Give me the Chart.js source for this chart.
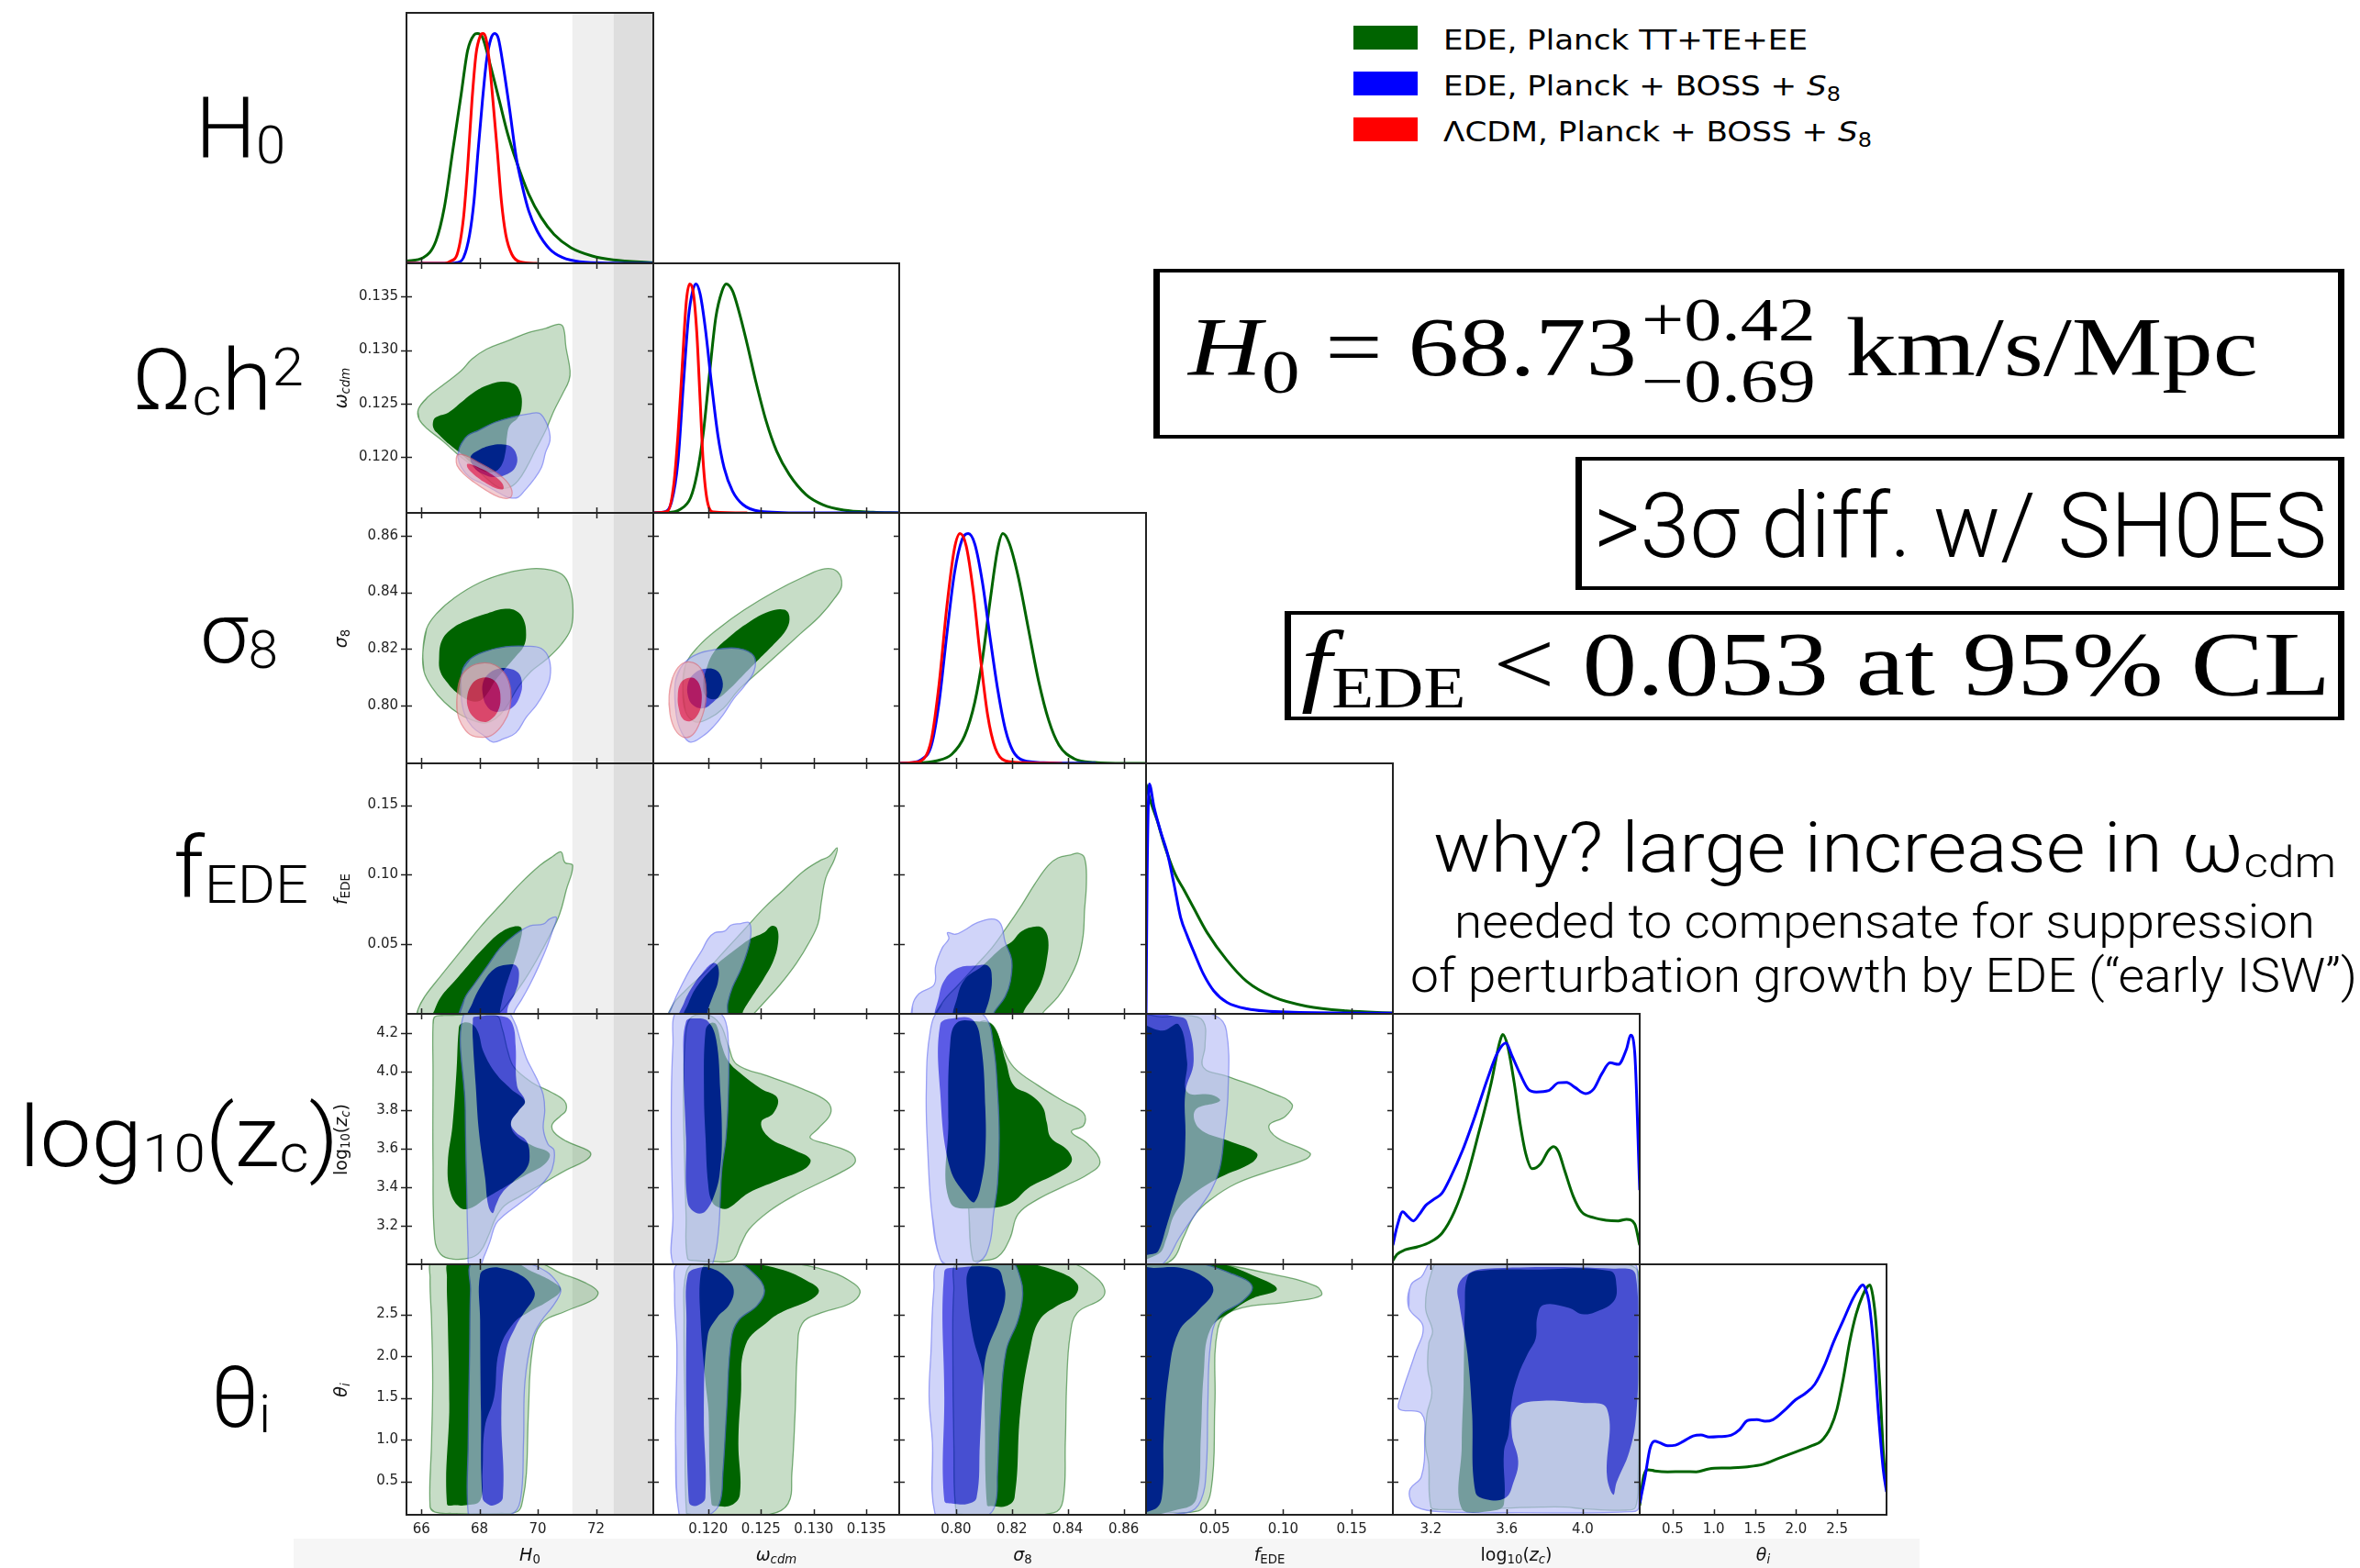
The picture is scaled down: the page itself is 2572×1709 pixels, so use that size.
<!DOCTYPE html>
<html>
<head>
<meta charset="utf-8">
<title>EDE constraints: Planck vs Planck + BOSS + S8</title>
<script src="https://cdn.jsdelivr.net/npm/chart.js@4.4.1/dist/chart.umd.min.js"></script>
<style>
  html, body { margin: 0; padding: 0; background: #fff; }
  #stage { position: relative; width: 2572px; height: 1709px; overflow: hidden; background: #fff; }
  #stage canvas { position: absolute; }
  .txt { position: absolute; white-space: nowrap; transform-origin: 0 0; line-height: 1; color: #000; }
  .rowlab { font-family: Roboto, 'Liberation Sans', sans-serif; font-weight: 300; }
  .rowlab .sb { font-size: 0.62em; position: relative; top: 0.1em; }
  .rowlab .sp { font-size: 0.62em; position: relative; top: -0.45em; }
  .ax { font-family: 'DejaVu Sans', sans-serif; color: #111; }
  .ax .sb { font-size: 0.7em; position: relative; top: 0.25em; }
  .it { font-style: italic; }
  .leg { font-family: 'DejaVu Sans', sans-serif; }
  .leg .sb { font-size: 0.7em; position: relative; top: 0.3em; }
  .serif { font-family: 'Liberation Serif', 'DejaVu Serif', serif; }
  .serif .sb { font-size: 0.75em; position: relative; top: 0.28em; }
  .serif .sbr { font-size: 0.63em; position: relative; top: 0.22em; }
  .serif .pm { display: inline-flex; flex-direction: column; font-size: 0.74em; line-height: 1; position: relative; top: -0.57em; margin: 0 0.06em; }
  .helv { font-family: Roboto, 'Liberation Sans', sans-serif; font-weight: 300; }
  .helv .sb { font-size: 0.62em; position: relative; top: 0.12em; }
  .box { position: absolute; border-style: solid; border-color: #000; border-width: 4px 7px; box-sizing: border-box; }
  .swatch { position: absolute; width: 70px; height: 26px; }
  .strip { position: absolute; background: #f6f6f6; }
</style>
</head>
<body>
<div id="stage"></div>
<script>
// ---------------- axis limits, ticks, reference values ----------------
const paramMin = [65.49, 0.1148, 0.7797, 0.0, 3.0, 0.1];
const paramMax = [73.97, 0.1381, 0.8680, 0.18, 4.3, 3.1];
const ticksH0 = [66, 68, 70, 72];
const ticksWcdm = [0.120, 0.125, 0.130, 0.135];
const ticksS8 = [0.80, 0.82, 0.84, 0.86];
const ticksFede = [0.05, 0.10, 0.15];
const ticksZcCol = [3.2, 3.6, 4.0];
const ticksZcRow = [3.2, 3.4, 3.6, 3.8, 4.0, 4.2];
const ticksTheta = [0.5, 1.0, 1.5, 2.0, 2.5];
const tickDecimals = [0, 3, 2, 2, 1, 1];
const shoesH0 = 74.03, shoesSigma = 1.42;   // SH0ES H0 (1 and 2 sigma bands)
const pdfTop = 1.09;                          // headroom above a peak-normalised posterior

// ---------------- 1D marginalised posteriors (peak = 1) ----------------
const pdfH0Planck = [[65.49,0.010],[66.07,0.025],[66.50,0.097],[66.79,0.243],[67.08,0.490],[67.37,0.737],[67.59,0.926],[67.81,0.994],[67.92,1.0],[68.10,0.984],[68.39,0.853],[68.68,0.708],[68.97,0.562],[69.26,0.446],[69.69,0.301],[70.12,0.199],[70.56,0.126],[71.14,0.068],[71.87,0.032],[72.59,0.015],[73.97,0.003]];
const pdfH0Boss = [[65.49,0],[67.0,0],[67.23,0.003],[67.45,0.025],[67.66,0.126],[67.81,0.272],[67.95,0.490],[68.10,0.708],[68.24,0.882],[68.39,0.977],[68.52,1.0],[68.65,0.977],[68.82,0.853],[69.04,0.664],[69.26,0.461],[69.48,0.330],[69.69,0.228],[69.98,0.141],[70.42,0.061],[70.85,0.025],[71.43,0.007],[72.59,0.001],[73.97,0]];
const pdfH0Lcdm = [[65.49,0],[66.8,0],[67.01,0.010],[67.23,0.039],[67.45,0.199],[67.59,0.417],[67.74,0.708],[67.88,0.911],[68.03,0.991],[68.11,1.0],[68.21,0.984],[68.32,0.897],[68.46,0.708],[68.61,0.490],[68.75,0.272],[68.90,0.126],[69.11,0.039],[69.40,0.006],[69.98,0]];

const pdfWcdmPlanck = [[0.1148,0],[0.11614,0.001],[0.11733,0.015],[0.11833,0.066],[0.11893,0.168],[0.11952,0.342],[0.12012,0.605],[0.12072,0.853],[0.12131,0.969],[0.12171,1.0],[0.12231,0.969],[0.1229,0.882],[0.1237,0.736],[0.1245,0.576],[0.12549,0.401],[0.12648,0.270],[0.12768,0.168],[0.12927,0.080],[0.13086,0.036],[0.13285,0.012],[0.13563,0.003],[0.1381,0]];
const pdfWcdmBoss = [[0.1148,0],[0.11574,0.003],[0.11654,0.051],[0.11714,0.226],[0.11765,0.561],[0.11813,0.853],[0.11853,0.969],[0.11885,1.0],[0.11924,0.955],[0.11972,0.809],[0.12032,0.561],[0.12091,0.342],[0.12151,0.197],[0.12231,0.095],[0.1233,0.036],[0.12489,0.007],[0.12887,0],[0.1381,0]];
const pdfWcdmLcdm = [[0.1148,0],[0.11614,0.007],[0.11674,0.124],[0.11714,0.342],[0.11753,0.634],[0.11793,0.925],[0.11825,1.0],[0.11861,0.955],[0.11893,0.780],[0.11924,0.488],[0.11952,0.226],[0.11992,0.051],[0.12052,0.004],[0.1237,0]];

const pdfS8Planck = [[0.7797,0],[0.78578,0.001],[0.79307,0.011],[0.79854,0.040],[0.8031,0.120],[0.80675,0.267],[0.80948,0.454],[0.81221,0.707],[0.81495,0.934],[0.81677,1.0],[0.81896,0.961],[0.82224,0.814],[0.82589,0.587],[0.82953,0.360],[0.83318,0.187],[0.83683,0.080],[0.84229,0.020],[0.84958,0.004],[0.86052,0],[0.868,0]];
const pdfS8Boss = [[0.7797,0],[0.78396,0.003],[0.7876,0.016],[0.79125,0.080],[0.79398,0.267],[0.79672,0.560],[0.79945,0.827],[0.80219,0.974],[0.80438,1.0],[0.80675,0.954],[0.80948,0.787],[0.81221,0.547],[0.81495,0.320],[0.81768,0.147],[0.82042,0.053],[0.82406,0.013],[0.83136,0.003],[0.85,0]];
const pdfS8Lcdm = [[0.7797,0],[0.78487,0.004],[0.78852,0.020],[0.79125,0.107],[0.79398,0.347],[0.79672,0.680],[0.79945,0.934],[0.80146,1.0],[0.80365,0.947],[0.8062,0.747],[0.80857,0.480],[0.8113,0.213],[0.81404,0.067],[0.81768,0.011],[0.82406,0.003],[0.838,0]];

const pdfFedePlanck = [[0,1.0],[0.003,0.93],[0.0082,0.84],[0.0131,0.74],[0.0213,0.607],[0.0276,0.54],[0.0348,0.46],[0.0445,0.354],[0.059,0.233],[0.0736,0.14],[0.0929,0.073],[0.1171,0.033],[0.1461,0.013],[0.18,0.004]];
const pdfFedeBoss = [[0,0],[0.0008,0.6],[0.0024,1.0],[0.0058,0.90],[0.0106,0.794],[0.0155,0.70],[0.0203,0.567],[0.0252,0.42],[0.0300,0.34],[0.0348,0.27],[0.0421,0.17],[0.0494,0.10],[0.059,0.05],[0.0736,0.022],[0.1074,0.007],[0.18,0.003]];

const pdfZcPlanck = [[3.0,0.016],[3.0216,0.043],[3.0648,0.063],[3.1295,0.076],[3.1943,0.096],[3.2591,0.136],[3.3238,0.229],[3.3886,0.376],[3.4534,0.576],[3.5181,0.790],[3.5613,0.963],[3.5786,1.0],[3.6045,0.950],[3.639,0.790],[3.6693,0.616],[3.6995,0.483],[3.734,0.416],[3.7772,0.436],[3.8204,0.496],[3.8463,0.512],[3.8722,0.490],[3.9067,0.403],[3.9499,0.296],[3.9931,0.229],[4.0579,0.203],[4.1226,0.192],[4.1874,0.189],[4.2306,0.196],[4.2737,0.176],[4.3,0.083]];
const pdfZcBoss = [[3.0,0.083],[3.0216,0.163],[3.0518,0.229],[3.0777,0.209],[3.1079,0.189],[3.1382,0.216],[3.1727,0.256],[3.2159,0.283],[3.2591,0.310],[3.3022,0.376],[3.367,0.496],[3.4318,0.643],[3.4965,0.803],[3.5527,0.923],[3.5959,0.963],[3.6261,0.910],[3.6693,0.830],[3.7124,0.763],[3.7556,0.750],[3.8204,0.756],[3.8722,0.790],[3.9154,0.792],[3.9585,0.770],[4.0147,0.743],[4.0579,0.763],[4.101,0.830],[4.1442,0.877],[4.1874,0.870],[4.2306,0.937],[4.2522,0.997],[4.2737,0.923],[4.3,0.323]];

const pdfThetaPlanck = [[0.1,0.04],[0.147,0.167],[0.205,0.196],[0.283,0.191],[0.438,0.187],[0.632,0.188],[0.788,0.187],[0.943,0.200],[1.176,0.204],[1.410,0.209],[1.604,0.220],[1.798,0.247],[1.993,0.273],[2.187,0.300],[2.303,0.320],[2.420,0.380],[2.498,0.460],[2.575,0.594],[2.653,0.754],[2.731,0.874],[2.809,0.954],[2.867,0.992],[2.898,1.0],[2.933,0.954],[2.972,0.834],[3.022,0.540],[3.061,0.273],[3.10,0.113]];
const pdfThetaBoss = [[0.1,0.05],[0.166,0.167],[0.224,0.287],[0.283,0.320],[0.341,0.314],[0.438,0.300],[0.535,0.303],[0.632,0.320],[0.749,0.343],[0.846,0.347],[0.943,0.338],[1.060,0.340],[1.215,0.347],[1.312,0.370],[1.410,0.410],[1.526,0.414],[1.623,0.407],[1.720,0.414],[1.876,0.460],[1.993,0.500],[2.109,0.527],[2.226,0.567],[2.342,0.647],[2.459,0.754],[2.575,0.847],[2.692,0.941],[2.770,0.987],[2.809,1.0],[2.847,0.981],[2.886,0.927],[2.945,0.727],[3.003,0.434],[3.061,0.193],[3.10,0.100]];

// ---------------- 2D credible regions (95% and 68% boundaries, [x, y]) ----------------
const wcdmVsH0 = {
  planck95: [[65.90,0.1245],[66.21,0.12559],[66.79,0.12683],[67.37,0.12808],[67.74,0.12916],[68.24,0.13009],[68.97,0.13087],[69.69,0.13165],[70.27,0.13202],[70.71,0.13242],[70.88,0.13211],[70.97,0.13025],[71.11,0.12808],[71.07,0.12714],[70.85,0.1259],[70.56,0.12435],[70.27,0.12248],[69.91,0.12062],[69.62,0.11907],[69.33,0.11783],[69.04,0.1172],[68.68,0.11714],[68.32,0.11783],[67.81,0.11907],[67.23,0.12031],[66.72,0.12155],[66.21,0.12264],[65.92,0.12357]],
  planck68: [[66.40,0.12326],[66.50,0.12373],[66.94,0.12419],[67.37,0.12512],[67.81,0.12606],[68.24,0.12668],[68.75,0.12705],[69.19,0.12683],[69.40,0.12606],[69.45,0.12481],[69.33,0.12373],[69.04,0.12295],[68.94,0.12186],[68.90,0.12062],[68.75,0.11922],[68.46,0.1186],[68.10,0.11876],[67.74,0.11938],[67.37,0.12031],[66.94,0.12124],[66.58,0.12217],[66.43,0.12264]],
  boss95: [[67.30,0.12078],[67.37,0.12124],[67.59,0.12202],[67.95,0.12248],[68.53,0.12326],[69.11,0.12373],[69.69,0.12404],[70.05,0.1241],[70.27,0.12335],[70.39,0.12248],[70.42,0.12155],[70.27,0.12047],[70.13,0.11907],[69.84,0.11783],[69.55,0.11689],[69.33,0.11627],[69.11,0.11618],[68.90,0.11633],[68.53,0.11689],[68.10,0.11752],[67.66,0.11814],[67.37,0.11907],[67.26,0.12]],
  boss68: [[67.69,0.12],[67.95,0.12062],[68.39,0.12109],[68.82,0.12118],[69.11,0.12093],[69.29,0.12],[69.23,0.11907],[68.97,0.11845],[68.53,0.11814],[68.10,0.11845],[67.81,0.11907]],
  lcdm95: [[67.26,0.12025],[67.52,0.12016],[67.95,0.11953],[68.46,0.11876],[68.90,0.11783],[69.11,0.11689],[69.04,0.11621],[68.68,0.11627],[68.24,0.11689],[67.81,0.11767],[67.45,0.11845],[67.23,0.11922],[67.20,0.11984]],
  lcdm68: [[67.59,0.11938],[67.95,0.11907],[68.39,0.11845],[68.75,0.11767],[68.82,0.11705],[68.61,0.11705],[68.17,0.11767],[67.78,0.11845],[67.59,0.11901]]
};
const s8VsH0 = {
  planck95: [[66.05,0.8186],[66.18,0.8272],[66.53,0.8326],[67.14,0.8381],[68.02,0.8435],[68.89,0.8467],[69.77,0.8483],[70.47,0.8478],[70.91,0.8456],[71.14,0.8402],[71.21,0.8337],[71.14,0.8272],[70.82,0.8218],[70.30,0.8164],[69.77,0.8121],[69.33,0.8067],[68.89,0.7991],[68.54,0.7954],[68.19,0.7939],[67.84,0.7946],[67.32,0.7970],[66.79,0.8013],[66.35,0.8067],[66.09,0.8121]],
  planck68: [[66.61,0.8164],[66.70,0.8229],[67.05,0.8272],[67.67,0.8305],[68.28,0.8326],[68.81,0.8341],[69.25,0.8335],[69.51,0.8305],[69.60,0.8251],[69.51,0.8208],[69.25,0.8175],[68.89,0.8132],[68.54,0.8089],[68.28,0.8045],[68.02,0.8018],[67.67,0.8018],[67.23,0.8045],[66.88,0.8083],[66.65,0.8121]],
  boss95: [[67.40,0.8121],[67.67,0.8164],[68.19,0.8191],[68.89,0.8208],[69.60,0.8210],[70.12,0.8202],[70.39,0.8164],[70.42,0.8099],[70.21,0.8045],[69.95,0.8002],[69.60,0.7959],[69.25,0.7905],[68.81,0.7883],[68.46,0.7872],[68.16,0.7894],[67.75,0.7926],[67.49,0.7970],[67.37,0.8035]],
  boss68: [[68.11,0.8078],[68.28,0.8110],[68.63,0.8130],[68.98,0.8132],[69.33,0.8116],[69.46,0.8078],[69.39,0.8035],[69.16,0.7997],[68.81,0.7981],[68.46,0.7981],[68.23,0.8002],[68.12,0.8035]],
  lcdm95: [[67.23,0.8035],[67.35,0.8099],[67.67,0.8137],[68.11,0.8151],[68.54,0.8143],[68.89,0.8110],[69.07,0.8056],[69.04,0.7991],[68.81,0.7937],[68.46,0.7899],[68.11,0.7889],[67.67,0.7899],[67.37,0.7937],[67.23,0.7981]],
  lcdm68: [[67.58,0.8035],[67.75,0.8078],[68.02,0.8097],[68.37,0.8097],[68.63,0.8072],[68.72,0.8024],[68.63,0.7981],[68.37,0.7950],[68.11,0.7943],[67.81,0.7959],[67.61,0.7991]]
};
const s8VsWcdm = {
  planck95: [[0.1176,0.8067],[0.11784,0.8143],[0.11904,0.8208],[0.12096,0.8272],[0.12337,0.8337],[0.12625,0.8402],[0.12914,0.8456],[0.13106,0.8483],[0.13226,0.8472],[0.13265,0.8424],[0.13202,0.8381],[0.13058,0.8316],[0.12865,0.8251],[0.12673,0.8186],[0.12481,0.8121],[0.12288,0.8056],[0.12144,0.7991],[0.12,0.7954],[0.1188,0.7943],[0.11784,0.7981]],
  planck68: [[0.11976,0.8121],[0.12048,0.8186],[0.12192,0.824],[0.12385,0.8294],[0.12577,0.8332],[0.12721,0.8339],[0.12769,0.8316],[0.12745,0.8272],[0.12625,0.8218],[0.12481,0.8164],[0.12337,0.811],[0.12192,0.8056],[0.12072,0.8024],[0.11976,0.8035],[0.11952,0.8078]],
  boss95: [[0.11687,0.8078],[0.11736,0.8132],[0.11856,0.8175],[0.12048,0.8197],[0.12288,0.8202],[0.12433,0.8175],[0.12433,0.8121],[0.12337,0.8067],[0.1224,0.8024],[0.12144,0.797],[0.12048,0.7926],[0.11952,0.7894],[0.11832,0.7872],[0.1175,0.7905],[0.11697,0.797]],
  boss68: [[0.11808,0.8078],[0.11856,0.811],[0.11952,0.8129],[0.12072,0.8126],[0.12135,0.8089],[0.1212,0.8045],[0.12048,0.8013],[0.11952,0.7991],[0.11856,0.8002],[0.11808,0.8035]],
  lcdm95: [[0.1163,0.8035],[0.11663,0.8099],[0.11736,0.8143],[0.11832,0.8154],[0.11928,0.8132],[0.11976,0.8078],[0.11976,0.8013],[0.11928,0.7948],[0.11856,0.7899],[0.11769,0.7889],[0.11687,0.7916],[0.11639,0.797]],
  lcdm68: [[0.11712,0.8035],[0.11736,0.8078],[0.11798,0.8097],[0.1188,0.8094],[0.11928,0.8062],[0.11937,0.8013],[0.11904,0.797],[0.11832,0.7946],[0.1176,0.7954],[0.11721,0.7991]]
};
const fedeVsH0 = {
  planck95: [[65.89,0.0035],[66.11,0.0123],[66.68,0.0276],[67.36,0.0452],[68.04,0.0627],[68.71,0.0781],[69.39,0.0934],[70.07,0.1066],[70.52,0.1132],[70.80,0.1164],[70.93,0.1088],[71.20,0.1066],[70.98,0.089],[70.75,0.0715],[70.41,0.0561],[69.96,0.0386],[69.51,0.0232],[69.05,0.0101],[68.71,0.0013],[68.26,-0.005],[66.0,-0.005],[65.85,-0.002]],
  planck68: [[66.45,0.0024],[66.68,0.0123],[67.13,0.0232],[67.58,0.0342],[68.15,0.0474],[68.71,0.0583],[69.17,0.0627],[69.44,0.0616],[69.39,0.0518],[69.21,0.0386],[68.99,0.0254],[68.83,0.0145],[68.71,0.0035],[68.60,-0.005],[66.34,-0.005]],
  boss95: [[67.36,-0.005],[67.47,0.0101],[67.81,0.0211],[68.26,0.0342],[68.71,0.0474],[69.17,0.0561],[69.73,0.0632],[70.19,0.0645],[70.41,0.0682],[70.64,0.0693],[70.52,0.0605],[70.30,0.0474],[70.03,0.0342],[69.73,0.0211],[69.44,0.0101],[69.21,0.0024],[69.05,-0.005]],
  boss68: [[67.58,-0.005],[67.76,0.0079],[68.08,0.0211],[68.49,0.032],[68.94,0.0353],[69.28,0.0342],[69.35,0.0254],[69.21,0.0145],[68.99,0.0057],[68.83,-0.005]]
};
const fedeVsWcdm = {
  planck95: [[0.11628,-0.005],[0.11659,0.0057],[0.11783,0.0167],[0.11969,0.0298],[0.12155,0.0452],[0.12341,0.0605],[0.12527,0.0759],[0.12713,0.089],[0.12898,0.1022],[0.13053,0.1099],[0.13146,0.1132],[0.13221,0.1193],[0.13196,0.111],[0.13115,0.0978],[0.13072,0.0803],[0.13041,0.0649],[0.1296,0.0518],[0.12836,0.0364],[0.12682,0.0211],[0.12527,0.0079],[0.12434,0.0002],[0.12372,-0.005]],
  planck68: [[0.11771,-0.005],[0.11814,0.0079],[0.11907,0.0211],[0.12062,0.0342],[0.12279,0.0474],[0.12403,0.0540],[0.12527,0.0583],[0.12601,0.0632],[0.12651,0.0616],[0.12663,0.0518],[0.1262,0.0386],[0.12527,0.0254],[0.12434,0.0145],[0.12341,0.0035],[0.12279,-0.005]],
  boss95: [[0.11628,-0.005],[0.11672,0.0079],[0.11752,0.0211],[0.11845,0.0342],[0.11938,0.0452],[0.12,0.0539],[0.12062,0.0583],[0.12155,0.0594],[0.12217,0.0638],[0.1231,0.0649],[0.1239,0.0654],[0.12403,0.0561],[0.12372,0.0452],[0.1231,0.032],[0.12229,0.0189],[0.12186,0.0079],[0.12155,-0.005]],
  boss68: [[0.11721,-0.005],[0.11771,0.0079],[0.11845,0.0189],[0.11938,0.0287],[0.12043,0.0364],[0.12093,0.0342],[0.12093,0.0232],[0.12043,0.0123],[0.12,0.0035],[0.11969,-0.005]]
};
const fedeVsS8 = {
  planck95: [[0.79272,-0.005],[0.79509,0.0079],[0.8010,0.0211],[0.80692,0.0342],[0.81284,0.0474],[0.81757,0.0605],[0.82349,0.0781],[0.82822,0.0934],[0.83296,0.1066],[0.83651,0.1121],[0.84124,0.1143],[0.84361,0.1154],[0.84598,0.1121],[0.84669,0.0956],[0.84598,0.0737],[0.8455,0.0561],[0.84361,0.0386],[0.84006,0.0232],[0.83651,0.0123],[0.83177,0.0024],[0.82822,-0.005]],
  planck68: [[0.79982,-0.005],[0.80053,0.0123],[0.80337,0.0254],[0.80929,0.0342],[0.81639,0.0474],[0.81994,0.0518],[0.82349,0.0594],[0.82822,0.0627],[0.83106,0.0616],[0.83296,0.0539],[0.83248,0.0386],[0.8306,0.0232],[0.82775,0.0123],[0.82468,0.0035],[0.82231,-0.005]],
  boss95: [[0.78514,-0.005],[0.78443,0.0057],[0.7868,0.0145],[0.79224,0.0211],[0.79272,0.0342],[0.79509,0.0474],[0.79745,0.0539],[0.79698,0.0583],[0.79982,0.0572],[0.80337,0.0605],[0.80692,0.0649],[0.81284,0.0682],[0.81592,0.0649],[0.81757,0.0518],[0.81994,0.0386],[0.81946,0.0232],[0.81757,0.0123],[0.81402,0.0024],[0.81165,-0.005]],
  boss68: [[0.79319,-0.005],[0.7939,0.0123],[0.79627,0.0254],[0.8010,0.0331],[0.80692,0.0346],[0.81165,0.0342],[0.81284,0.0254],[0.81213,0.0123],[0.81047,0.0013],[0.80929,-0.005]]
};
const zcVsH0 = {
  planck95: [[66.46,4.284],[66.77,4.292],[68.56,4.292],[68.77,4.228],[68.98,4.101],[69.19,4.022],[69.82,3.942],[70.45,3.894],[70.92,3.847],[70.97,3.799],[70.76,3.767],[70.50,3.727],[70.55,3.687],[70.97,3.640],[71.71,3.592],[71.82,3.568],[71.61,3.536],[70.97,3.489],[70.24,3.425],[69.40,3.353],[68.87,3.306],[68.56,3.242],[68.30,3.146],[68.03,3.067],[67.72,3.035],[67.09,3.027],[66.67,3.051],[66.46,3.131],[66.40,3.528],[66.40,4.006],[66.40,4.244]],
  planck68: [[67.35,4.247],[67.67,4.252],[67.93,4.212],[68.14,4.101],[68.56,3.990],[69.08,3.910],[69.56,3.847],[69.35,3.799],[69.08,3.735],[69.24,3.672],[69.82,3.616],[70.40,3.576],[70.24,3.520],[69.61,3.465],[68.87,3.401],[68.24,3.345],[67.67,3.290],[67.30,3.298],[66.98,3.385],[66.91,3.528],[67.07,3.719],[67.21,4.006],[67.28,4.212]],
  boss95: [[67.51,4.32],[68.87,4.32],[69.19,4.260],[69.40,4.165],[69.61,4.069],[69.82,4.006],[70.03,3.942],[70.19,3.878],[70.24,3.799],[70.19,3.703],[70.35,3.624],[70.56,3.592],[70.50,3.497],[70.24,3.433],[69.82,3.369],[69.29,3.306],[68.87,3.258],[68.56,3.210],[68.35,3.115],[68.14,3.035],[67.98,2.98],[67.66,2.98],[67.61,3.083],[67.56,3.369],[67.51,3.8]],
  boss68: [[67.82,4.284],[68.87,4.284],[69.14,4.244],[69.24,4.133],[69.29,3.926],[69.56,3.847],[69.35,3.799],[69.08,3.735],[69.24,3.687],[69.61,3.640],[69.72,3.560],[69.61,3.497],[69.19,3.433],[68.77,3.369],[68.56,3.306],[68.45,3.266],[68.30,3.306],[68.19,3.449],[67.98,3.687],[67.87,3.926],[67.77,4.165],[67.77,4.260]]
};
const zcVsWcdm = {
  planck95: [[0.11805,3.0302],[0.1179,3.2603],[0.11774,3.5777],[0.11766,3.8951],[0.1179,4.2126],[0.11844,4.284],[0.11999,4.2951],[0.12115,4.2443],[0.12192,4.1332],[0.1227,4.038],[0.12579,3.9745],[0.12889,3.911],[0.13121,3.8475],[0.1316,3.784],[0.13043,3.7047],[0.12966,3.6571],[0.13121,3.6253],[0.13353,3.5777],[0.13392,3.5301],[0.13276,3.4825],[0.13043,3.419],[0.12811,3.3555],[0.12579,3.2762],[0.12386,3.181],[0.12308,3.1016],[0.12231,3.0222],[0.12037,3.0143],[0.11882,3.019]],
  planck68: [[0.11999,3.419],[0.11975,3.6571],[0.1196,3.8951],[0.11975,4.2126],[0.12022,4.2522],[0.12076,4.2443],[0.1213,4.1332],[0.12192,4.0539],[0.12308,3.9904],[0.12502,3.911],[0.12656,3.8634],[0.12618,3.784],[0.12502,3.7364],[0.12579,3.6571],[0.12811,3.5936],[0.12966,3.546],[0.12927,3.5],[0.12656,3.4349],[0.12386,3.3714],[0.12192,3.292],[0.12115,3.292],[0.12037,3.3238]],
  boss95: [[0.11689,2.98],[0.11666,3.2603],[0.1165,3.7364],[0.11666,4.1332],[0.11712,4.32],[0.12037,4.32],[0.12153,4.276],[0.12192,4.1332],[0.12192,3.8951],[0.12169,3.6571],[0.1213,3.4984],[0.12115,3.3397],[0.12099,3.181],[0.1206,3.0381],[0.11999,2.98]],
  boss68: [[0.11805,3.3238],[0.1179,3.6571],[0.11766,4.0539],[0.1179,4.2601],[0.11882,4.276],[0.11999,4.2601],[0.12076,4.1649],[0.12115,3.8951],[0.1213,3.6571],[0.12115,3.4984],[0.12076,3.3873],[0.11975,3.2762],[0.11882,3.2682]]
};
const zcVsS8 = {
  planck95: [[0.80609,3.0222],[0.80463,3.2603],[0.80404,3.5777],[0.80463,3.8951],[0.80609,4.1808],[0.80903,4.2602],[0.81342,4.2364],[0.81636,4.1332],[0.82075,4.0221],[0.82955,3.9268],[0.83835,3.8475],[0.84568,3.784],[0.84568,3.7205],[0.84128,3.6888],[0.84715,3.6253],[0.85155,3.5301],[0.84715,3.4666],[0.83835,3.4031],[0.82955,3.3397],[0.82222,3.2603],[0.81929,3.1333],[0.81489,3.0381],[0.80903,3.019]],
  planck68: [[0.79788,3.3238],[0.79729,3.7364],[0.79788,4.1332],[0.80023,4.2522],[0.80756,4.2602],[0.81342,4.2364],[0.81782,4.0539],[0.82075,3.9268],[0.82662,3.8792],[0.83102,3.8158],[0.83249,3.7364],[0.83395,3.6571],[0.83982,3.5936],[0.84128,3.5301],[0.83542,3.4666],[0.82662,3.4031],[0.81929,3.3158],[0.80903,3.292]],
  boss95: [[0.79436,3.0302],[0.79143,3.2603],[0.78996,3.5777],[0.78938,3.8951],[0.79084,4.2126],[0.79436,4.32],[0.80316,4.32],[0.81049,4.284],[0.81342,4.1332],[0.81489,3.8951],[0.81548,3.6571],[0.81489,3.419],[0.81342,3.2603],[0.81196,3.1016],[0.80844,3.0143],[0.79876,2.98]],
  boss68: [[0.80463,3.3397],[0.79788,3.4984],[0.79436,3.8951],[0.79436,4.2443],[0.79876,4.276],[0.80609,4.2681],[0.80903,4.1332],[0.81049,3.8158],[0.81049,3.5777],[0.80903,3.419],[0.80668,3.3238]]
};
const zcVsFede = {
  planck95: [[-0.01,3.0],[-0.01,4.28],[0.012,4.284],[0.0299,4.2919],[0.0418,4.2602],[0.043,4.1332],[0.0418,4.0221],[0.0598,3.9745],[0.0897,3.8951],[0.1064,3.8317],[0.1016,3.7682],[0.0897,3.7206],[0.0956,3.6571],[0.1195,3.5777],[0.1166,3.546],[0.0897,3.4825],[0.0657,3.419],[0.0478,3.3397],[0.0359,3.2603],[0.0269,3.1333],[0.0209,3.0381],[0.012,3.0]],
  planck68: [[-0.01,3.04],[-0.01,4.24],[0.012,4.2126],[0.0239,4.2443],[0.0299,4.0539],[0.0299,3.8951],[0.0478,3.8792],[0.0538,3.8475],[0.0359,3.8],[0.0389,3.7047],[0.0598,3.6412],[0.0807,3.5777],[0.0777,3.5301],[0.0538,3.4507],[0.0329,3.3555],[0.0209,3.2603],[0.0149,3.1333],[0.009,3.054]],
  boss95: [[-0.01,2.98],[-0.01,4.32],[0.0239,4.32],[0.0508,4.2887],[0.0586,4.2126],[0.0598,3.8951],[0.0568,3.6571],[0.0538,3.4984],[0.0478,3.3873],[0.0359,3.2603],[0.0239,3.1333],[0.0149,3.0222],[0.006,2.98]],
  boss68: [[-0.01,3.06],[-0.01,4.284],[0.0239,4.284],[0.0299,4.2602],[0.0347,4.0539],[0.0287,3.8951],[0.0287,3.6571],[0.0269,3.4825],[0.0209,3.3397],[0.0149,3.1968],[0.009,3.0699],[0.0048,3.054]]
};
const thVsH0 = {
  planck95: [[66.30,0.1965],[66.35,0.9644],[66.39,1.6956],[66.35,2.4269],[66.30,2.9388],[66.39,3.12],[69.97,3.12],[70.79,2.9936],[71.60,2.8839],[72.06,2.7742],[71.93,2.6828],[70.95,2.5366],[70.13,2.3903],[69.81,2.0612],[69.68,1.33],[69.61,0.5987],[69.48,0.2697],[69.32,0.1417],[68.67,0.1161],[67.04,0.1161],[66.47,0.1307]],
  planck68: [[66.88,0.2331],[66.96,1.33],[66.91,2.4269],[66.88,2.9388],[66.96,3.12],[69.16,3.12],[69.81,3.0119],[70.46,2.9022],[70.79,2.7925],[70.30,2.6462],[69.73,2.5366],[69.16,2.3903],[68.67,2.06],[68.50,1.51],[68.18,1.15],[68.10,0.6],[68.02,0.27],[67.53,0.2148],[67.20,0.2148]],
  boss95: [[67.61,0.1234],[67.61,0.9644],[67.66,2.0612],[67.69,2.7925],[67.77,3.12],[69.48,3.12],[70.30,3.0119],[70.70,2.8656],[70.79,2.7742],[70.54,2.6097],[70.13,2.4269],[69.81,2.2075],[69.56,1.6956],[69.51,0.9644],[69.40,0.2697],[69.07,0.1051],[67.85,0.0868]],
  boss68: [[68.10,0.3062],[68.05,1.33],[68.02,2.4269],[68.02,2.9754],[68.34,3.0558],[68.83,3.0485],[69.48,2.9571],[69.81,2.8291],[69.89,2.7194],[69.56,2.5366],[69.24,2.3537],[68.91,2.0612],[68.75,1.33],[68.80,0.3062],[68.50,0.2148],[68.26,0.2331]]
};
const thVsWcdm = {
  planck95: [[0.11794,0.1234],[0.1178,1.33],[0.11771,2.4269],[0.11794,3.0119],[0.11906,3.12],[0.12712,3.12],[0.1316,3.0119],[0.13384,2.8656],[0.13438,2.7559],[0.13339,2.6279],[0.1307,2.5183],[0.12891,2.3903],[0.12846,2.0612],[0.12824,1.33],[0.12793,0.5987],[0.12757,0.2331],[0.12578,0.1051],[0.1204,0.0942],[0.11838,0.1051]],
  planck68: [[0.12031,0.2331],[0.12004,1.33],[0.11973,1.70],[0.11928,2.4269],[0.11928,2.9754],[0.11995,3.12],[0.12354,3.12],[0.12712,3.03],[0.12936,2.9022],[0.13048,2.7925],[0.12981,2.6828],[0.12712,2.5366],[0.12578,2.4269],[0.12354,2.1343],[0.12309,1.5128],[0.12286,0.9644],[0.123,0.3428],[0.12219,0.2148],[0.12085,0.2038]],
  boss95: [[0.11726,0.0942],[0.11691,0.9644],[0.11704,2.0612],[0.11682,2.7925],[0.11726,3.12],[0.12264,3.12],[0.12443,2.9754],[0.12533,2.7925],[0.12466,2.6097],[0.12286,2.4269],[0.12219,2.2075],[0.12174,1.33],[0.12139,0.5987],[0.12107,0.2331],[0.11995,0.0942],[0.11816,0.08]],
  boss68: [[0.11816,0.2697],[0.11794,1.33],[0.11794,2.4269],[0.11807,2.9754],[0.11906,3.0558],[0.1204,3.0485],[0.12174,2.9388],[0.12242,2.7925],[0.12197,2.6097],[0.12085,2.4635],[0.11995,2.2441],[0.11959,1.33],[0.11973,0.3062],[0.11906,0.2148],[0.11838,0.2148]]
};
const thVsS8 = {
  planck95: [[0.80008,0.1234],[0.79923,0.9644],[0.79889,2.0612],[0.79923,2.7925],[0.80093,3.12],[0.83998,3.12],[0.85017,2.9388],[0.85322,2.7925],[0.85187,2.6828],[0.84338,2.5183],[0.84083,2.2441],[0.83964,1.6956],[0.83913,0.9644],[0.83828,0.2697],[0.83489,0.1234],[0.81451,0.0942],[0.80262,0.1051]],
  planck68: [[0.81111,0.2148],[0.81027,1.33],[0.80975,1.77],[0.80602,2.244],[0.80398,2.7925],[0.80432,3.0119],[0.80772,3.12],[0.8230,3.12],[0.83658,3.0119],[0.84338,2.8656],[0.84253,2.7194],[0.83658,2.6097],[0.82979,2.4269],[0.82639,2.0612],[0.8230,1.33],[0.82096,0.3062],[0.81791,0.2038],[0.81281,0.2038]],
  boss95: [[0.79244,0.1234],[0.79159,0.9644],[0.7904,1.5128],[0.79108,2.0612],[0.7921,2.7925],[0.79413,3.12],[0.8196,3.12],[0.823,2.9388],[0.82385,2.7194],[0.82215,2.4269],[0.81791,2.0612],[0.81587,1.33],[0.81485,0.5987],[0.81417,0.2331],[0.81111,0.0942],[0.79753,0.08]],
  boss68: [[0.79583,0.2697],[0.79583,1.5],[0.79583,3.0119],[0.80,3.06],[0.81451,3.0485],[0.81706,2.8656],[0.81757,2.6828],[0.81536,2.4269],[0.81111,2.0612],[0.80975,1.6956],[0.80857,0.9644],[0.80738,0.3062],[0.80432,0.2331],[0.79923,0.2331]]
};
const thVsFede = {
  planck95: [[-0.01,0.134],[-0.01,3.12],[0.0416,3.12],[0.0918,2.983],[0.1241,2.837],[0.1276,2.727],[0.1061,2.654],[0.0631,2.544],[0.0523,2.324],[0.0502,1.408],[0.0473,0.383],[0.0380,0.145],[0.0057,0.134]],
  planck68: [[-0.01,0.18],[-0.01,3.12],[0.0488,3.12],[0.0810,2.947],[0.0954,2.800],[0.0774,2.690],[0.0631,2.544],[0.0470,2.324],[0.0420,1.775],[0.0400,1.042],[0.0370,0.310],[0.0280,0.181]],
  boss95: [[-0.01,0.127],[-0.01,3.12],[0.0344,3.12],[0.0631,2.983],[0.0774,2.837],[0.0700,2.654],[0.0530,2.471],[0.0470,2.141],[0.0450,1.408],[0.0440,0.676],[0.0400,0.273],[0.0300,0.127]],
  boss68: [[-0.01,0.163],[-0.01,3.04],[0.0057,3.057],[0.0273,3.05],[0.0452,2.910],[0.0488,2.764],[0.0380,2.544],[0.0237,2.288],[0.0165,1.775],[0.0129,1.042],[0.0115,0.310],[0.0057,0.163]]
};
const thVsZc = {
  planck95: [[3.2005,0.192],[3.189,0.70],[3.172,0.93],[3.179,1.30],[3.2055,1.56],[3.184,1.84],[3.189,2.15],[3.209,2.30],[3.172,2.58],[3.2005,2.98],[3.2423,3.12],[4.1613,3.12],[4.2783,3.056],[4.295,2.909],[4.295,1.661],[4.2917,0.559],[4.2783,0.192],[4.2282,0.155],[3.9942,0.173],[3.9107,0.192],[3.777,0.192],[3.4929,0.173],[3.2423,0.162]],
  planck68: [[3.3676,0.155],[3.3626,0.926],[3.3726,1.661],[3.3793,2.579],[3.3927,2.946],[3.4428,3.019],[3.7436,3.038],[4.1446,3.019],[4.178,2.836],[4.1613,2.652],[4.0611,2.524],[3.9942,2.505],[3.9274,2.579],[3.7937,2.615],[3.7603,2.468],[3.752,2.211],[3.7102,2.028],[3.6601,1.771],[3.6266,1.477],[3.6099,1.073],[3.5849,0.853],[3.5849,0.229],[3.5431,0.155]],
  boss95: [[3.0952,2.854],[3.1504,2.95],[3.2089,3.12],[4.1613,3.12],[4.2867,3.056],[4.2984,1.661],[4.295,0.192],[4.2616,0.137],[3.66,0.126],[3.2423,0.137],[3.1253,0.192],[3.0919,0.284],[3.0919,0.412],[3.1504,0.559],[3.1671,0.999],[3.1504,1.312],[3.0334,1.367],[3.0418,1.514],[3.117,2.028],[3.1587,2.358],[3.0836,2.579]],
  boss68: [[3.4345,0.375],[3.4178,1.293],[3.3927,2.028],[3.3509,2.615],[3.3426,2.836],[3.3927,2.982],[3.4929,3.049],[4.1613,3.049],[4.2783,2.982],[4.2917,2.028],[4.2817,1.293],[4.2449,0.853],[4.178,0.486],[4.1613,0.339],[4.1279,0.559],[4.1279,1.367],[3.9942,1.440],[3.7436,1.459],[3.6434,1.367],[3.6266,1.073],[3.6601,0.743],[3.635,0.486],[3.5932,0.302],[3.4929,0.284]]
};

// ---------------- labels ----------------
const legendLabels = ['EDE, Planck TT+TE+EE', 'EDE, Planck + BOSS + <span class="it">S</span><span class="sb">8</span>', 'ΛCDM, Planck + BOSS + <span class="it">S</span><span class="sb">8</span>'];
const axisTitles = [
  '<span class="it">H</span><span class="sb">0</span>',
  '<span class="it">ω</span><span class="sb it">cdm</span>',
  '<span class="it">σ</span><span class="sb">8</span>',
  '<span class="it">f</span><span class="sb">EDE</span>',
  'log<span class="sb">10</span>(<span class="it">z</span><span class="sb it">c</span>)',
  '<span class="it">θ</span><span class="sb it">i</span>'
];

// ---------------- layout & styling ----------------
const stage = document.getElementById('stage');
const colEdges = [443, 712, 980, 1249, 1518, 1787, 2056];
const rowEdges = [14, 287, 559, 832, 1105, 1378, 1651];
const PAD = 60;
const xTickSets = [ticksH0, ticksWcdm, ticksS8, ticksFede, ticksZcCol, ticksTheta];
const yTickSets = [null, ticksWcdm, ticksS8, ticksFede, ticksZcRow, ticksTheta];
const pdfPanels = [
  {planck: pdfH0Planck, boss: pdfH0Boss, lcdm: pdfH0Lcdm},
  {planck: pdfWcdmPlanck, boss: pdfWcdmBoss, lcdm: pdfWcdmLcdm},
  {planck: pdfS8Planck, boss: pdfS8Boss, lcdm: pdfS8Lcdm},
  {planck: pdfFedePlanck, boss: pdfFedeBoss},
  {planck: pdfZcPlanck, boss: pdfZcBoss},
  {planck: pdfThetaPlanck, boss: pdfThetaBoss}
];
const contourPanels = {
  '1,0': wcdmVsH0, '2,0': s8VsH0, '2,1': s8VsWcdm,
  '3,0': fedeVsH0, '3,1': fedeVsWcdm, '3,2': fedeVsS8,
  '4,0': zcVsH0, '4,1': zcVsWcdm, '4,2': zcVsS8, '4,3': zcVsFede,
  '5,0': thVsH0, '5,1': thVsWcdm, '5,2': thVsS8, '5,3': thVsFede, '5,4': thVsZc
};
const seriesStyle = {
  planck: { line: '#006400', fill95: 'rgba(0,100,0,0.22)', edge95: 'rgba(0,100,0,0.5)', fill68: '#006400', alpha: 1 },
  boss:   { line: '#0000ff', fill95: 'rgb(182,188,246)', edge95: 'rgb(95,105,240)', fill68: 'rgb(0,0,216)', alpha: 0.64 },
  lcdm:   { line: '#ff0000', fill95: 'rgb(236,177,185)', edge95: 'rgb(225,105,115)', fill68: 'rgb(235,0,40)', alpha: 0.64 }
};
const shoesBands = [
  { from: shoesH0 - 2 * shoesSigma, to: shoesH0 + 2 * shoesSigma, color: '#efefef' },
  { from: shoesH0 - shoesSigma, to: shoesH0 + shoesSigma, color: '#dedede' }
];

Chart.defaults.font.family = "'DejaVu Sans', sans-serif";
Chart.defaults.color = '#222';

// Fills a closed credible-region outline along the line element's own (smoothed) path.
const contourFill = {
  id: 'contourFill',
  beforeDatasetDraw(chart, args) {
    const ds = chart.data.datasets[args.index];
    const line = args.meta.dataset;
    if (!ds.areaColor || !line) return;
    const a = chart.chartArea, ctx = chart.ctx;
    line.updateControlPoints(a, 'x');
    ctx.save();
    ctx.beginPath();
    ctx.rect(a.left, a.top, a.right - a.left, a.bottom - a.top);
    ctx.clip();
    ctx.beginPath();
    if (typeof line.path === 'function') {
      line.path(ctx);
    } else {
      const p = line.points;
      ctx.moveTo(p[0].x, p[0].y);
      for (let i = 1; i < p.length; i++) {
        ctx.bezierCurveTo(p[i - 1].cp2x, p[i - 1].cp2y, p[i].cp1x, p[i].cp1y, p[i].x, p[i].y);
      }
    }
    ctx.closePath();
    ctx.fillStyle = ds.areaColor;
    ctx.fill();
    ctx.restore();
  }
};

// SH0ES bands behind the data, and the panel frame with inward ticks on top.
const panelDecor = {
  id: 'panelDecor',
  beforeDatasetsDraw(chart) {
    const o = chart.canvas._decor;
    if (!o || !o.bands) return;
    const {ctx, chartArea: a} = chart;
    const xs = chart.scales.x;
    ctx.save();
    for (const b of o.bands) {
      const x0 = Math.max(a.left, xs.getPixelForValue(b.from));
      const x1 = Math.min(a.right, xs.getPixelForValue(b.to));
      if (x1 > x0) { ctx.fillStyle = b.color; ctx.fillRect(x0, a.top, x1 - x0, a.bottom - a.top); }
    }
    ctx.restore();
  },
  afterDraw(chart) {
    const o = chart.canvas._decor;
    if (!o || !o.frame) return;
    const {ctx, chartArea: a} = chart;
    const xs = chart.scales.x, ys = chart.scales.y;
    const L = 6;
    ctx.save();
    ctx.strokeStyle = '#222';
    ctx.lineWidth = 1.5;
    ctx.beginPath();
    for (const v of (o.ticksX || [])) {
      const px = Math.round(xs.getPixelForValue(v)) + 0.5;
      ctx.moveTo(px, a.bottom); ctx.lineTo(px, a.bottom - L);
      if (o.kind === '2d') { ctx.moveTo(px, a.top); ctx.lineTo(px, a.top + L); }
    }
    for (const v of (o.ticksY || [])) {
      const py = Math.round(ys.getPixelForValue(v)) + 0.5;
      ctx.moveTo(a.left - (o.outLeft ? L : 0), py); ctx.lineTo(a.left + L, py);
      ctx.moveTo(a.right, py); ctx.lineTo(a.right - L, py);
    }
    ctx.stroke();
    ctx.lineWidth = 2;
    ctx.strokeRect(a.left, a.top, a.right - a.left, a.bottom - a.top);
    ctx.restore();
  }
};

function ring(pts) {
  const n = pts.length;
  return [pts[n - 1], ...pts, pts[0], pts[1]];
}

function axisCfg(axis, p, tickVals, showLabels) {
  const cfg = {
    type: 'linear', display: true,
    min: p === null ? 0 : paramMin[p],
    max: p === null ? pdfTop : paramMax[p],
    grid: { display: false, drawTicks: false },
    border: { display: false },
    ticks: {
      display: showLabels, autoSkip: false, maxRotation: 0, minRotation: 0,
      padding: axis === 'x' ? 7 : 9,
      font: { family: "'DejaVu Sans', sans-serif", size: 15 }, color: '#222',
      callback: (v) => p === null ? '' : Number(v).toFixed(tickDecimals[p])
    },
    afterFit: (s) => { if (axis === 'x') s.height = PAD; else s.width = PAD; }
  };
  if (tickVals) cfg.afterBuildTicks = (s) => { s.ticks = tickVals.map(v => ({ value: v })); };
  return cfg;
}

function makeCanvas(r, c, alpha, decor) {
  const x0 = colEdges[c], y0 = rowEdges[r];
  const w = colEdges[c + 1] - x0, h = rowEdges[r + 1] - y0;
  const cv = document.createElement('canvas');
  cv.width = w + 2 * PAD; cv.height = h + 2 * PAD;
  cv.style.left = (x0 - PAD) + 'px'; cv.style.top = (y0 - PAD) + 'px';
  cv.style.width = cv.width + 'px'; cv.style.height = cv.height + 'px';
  if (alpha < 1) cv.style.opacity = alpha;
  cv._decor = decor || null;
  stage.appendChild(cv);
  return cv;
}

function newChart(cv, datasets, xCfg, yCfg) {
  datasets.forEach((d, i) => { d.order = datasets.length - i; });
  return new Chart(cv, {
    type: 'line',
    data: { datasets },
    options: {
      responsive: false, maintainAspectRatio: false, animation: false, devicePixelRatio: 1, events: [],
      layout: { padding: { left: 0, top: PAD, right: PAD, bottom: 0 } },
      scales: { x: xCfg, y: yCfg },
      plugins: { legend: { display: false }, tooltip: { enabled: false }, title: { display: false } }
    },
    plugins: [panelDecor, contourFill]
  });
}

function regionDataset(pts, fill, edge, edgeWidth) {
  return {
    data: ring(pts), areaColor: fill,
    borderColor: edge || 'rgba(0,0,0,0)', borderWidth: edge ? edgeWidth : 0,
    pointRadius: 0, tension: 0.4, fill: false, clip: 0
  };
}

function pdfDataset(pts, color) {
  return { data: pts, borderColor: color, borderWidth: 3, pointRadius: 0, cubicInterpolationMode: 'monotone', fill: false };
}

// diagonal: 1D posteriors
for (let i = 0; i < 6; i++) {
  const P = pdfPanels[i];
  const ds = [];
  for (const k of ['planck', 'boss', 'lcdm']) if (P[k]) ds.push(pdfDataset(P[k], seriesStyle[k].line));
  const cv = makeCanvas(i, i, 1, { frame: true, kind: '1d', ticksX: xTickSets[i], bands: i === 0 ? shoesBands : null });
  newChart(cv, ds, axisCfg('x', i, xTickSets[i], i === 5), axisCfg('y', null, null, false));
}

// lower triangle: 2D credible regions, one canvas per series so each series' two levels blend as a group
for (let r = 1; r < 6; r++) {
  for (let c = 0; c < r; c++) {
    const P = contourPanels[r + ',' + c];
    for (const k of ['planck', 'boss', 'lcdm']) {
      if (!P[k + '95']) continue;
      const st = seriesStyle[k];
      const ds = [
        regionDataset(P[k + '95'], st.fill95, st.edge95, 1.3),
        regionDataset(P[k + '68'], st.fill68, null, 0)
      ];
      const cv = makeCanvas(r, c, st.alpha, k === 'planck' && c === 0 ? { bands: shoesBands } : null);
      newChart(cv, ds, axisCfg('x', c, xTickSets[c], false), axisCfg('y', r, yTickSets[r], false));
    }
    const fcv = makeCanvas(r, c, 1, { frame: true, kind: '2d', ticksX: xTickSets[c], ticksY: yTickSets[r], outLeft: c === 0 });
    newChart(fcv, [], axisCfg('x', c, xTickSets[c], r === 5), axisCfg('y', r, yTickSets[r], c === 0));
  }
}

// ---------------- text ----------------
function addText(html, cls, x, baseline, size, width) {
  const el = document.createElement('div');
  el.className = 'txt ' + cls;
  el.style.fontSize = size + 'px';
  el.innerHTML = html + '<span style="display:inline-block;width:0;height:0;vertical-align:baseline"></span>';
  el.style.left = x + 'px';
  el.style.top = '0px';
  stage.appendChild(el);
  const mark = el.lastChild;
  const off = mark.getBoundingClientRect().top - el.getBoundingClientRect().top;
  el.style.top = (baseline - off) + 'px';
  if (width) {
    const w = el.getBoundingClientRect().width;
    el.style.transform = 'scaleX(' + (width / w) + ')';
  }
  return el;
}

function addDiv(cls, x, y, w, h, bg) {
  const d = document.createElement('div');
  d.className = cls;
  d.style.left = x + 'px'; d.style.top = y + 'px';
  d.style.width = w + 'px'; d.style.height = h + 'px';
  if (bg) d.style.background = bg;
  stage.insertBefore(d, stage.firstChild);
  return d;
}

// light strip under the bottom axis titles
addDiv('strip', 320, 1677, 1772, 32, null);

// parameter names on the left
addText('H<span class="sb">0</span>', 'rowlab', 213, 172, 92, 98);
addText('Ω<span class="sb">c</span>h<span class="sp">2</span>', 'rowlab', 144, 446, 92, 187);
addText('σ<span class="sb">8</span>', 'rowlab', 218, 722, 92, 85);
addText('f<span class="sb">EDE</span>', 'rowlab', 189, 978, 92, 147);
addText('log<span class="sb">10</span>(z<span class="sb">c</span>)', 'rowlab', 21, 1271, 92, 348);
addText('θ<span class="sb">i</span>', 'rowlab', 230, 1555, 92, 65);

// axis titles: bottom row and rotated left column
for (let c = 0; c < 6; c++) {
  const el = addText(axisTitles[c], 'ax', 0, 1701, 19, 0);
  const w = el.getBoundingClientRect().width;
  el.style.left = ((colEdges[c] + colEdges[c + 1]) / 2 - w / 2) + 'px';
}
for (let r = 1; r < 6; r++) {
  const el = addText(axisTitles[r], 'ax', 0, 0, 19, 0);
  const cy = (rowEdges[r] + rowEdges[r + 1]) / 2;
  el.style.left = '371px';
  el.style.top = cy + 'px';
  el.style.transformOrigin = '50% 50%';
  el.style.transform = 'translate(-50%, -50%) rotate(-90deg)';
}

// legend
const legendColors = [seriesStyle.planck.line, seriesStyle.boss.line, seriesStyle.lcdm.line];
const legendWidths = [397, 433, 467];
for (let i = 0; i < 3; i++) {
  const sw = document.createElement('div');
  sw.className = 'swatch';
  sw.style.left = '1475px'; sw.style.top = (28 + 50 * i) + 'px';
  sw.style.background = legendColors[i];
  stage.appendChild(sw);
  addText(legendLabels[i], 'leg', 1573, 54 + 50 * i, 30, legendWidths[i]);
}

// boxed annotations
addDiv('box', 1257, 293, 1298, 185, null);
addDiv('box', 1717, 498, 838, 145, null);
addDiv('box', 1400, 666, 1155, 119, null);
addText('<span class="it">H</span><span class="sb">0</span> = 68.73<span class="pm"><span>+0.42</span><span>−0.69</span></span> km/s/Mpc', 'serif', 1295, 409, 90, 1166);
addText('&gt;3σ diff. w/ SH0ES', 'helv', 1737, 607, 99, 799);
addText('<span class="it">f</span><span class="sbr">EDE</span> &lt; 0.053 at 95% CL', 'serif', 1418, 757, 100, 1122);

// explanatory note
addText('why? large increase in ω<span class="sb">cdm</span>', 'helv', 1562, 950, 76, 984);
addText('needed to compensate for suppression', 'helv', 1585, 1022, 52, 938);
addText('of perturbation growth by EDE (“early ISW”)', 'helv', 1537, 1081, 52, 1032);
</script>
</body>
</html>
